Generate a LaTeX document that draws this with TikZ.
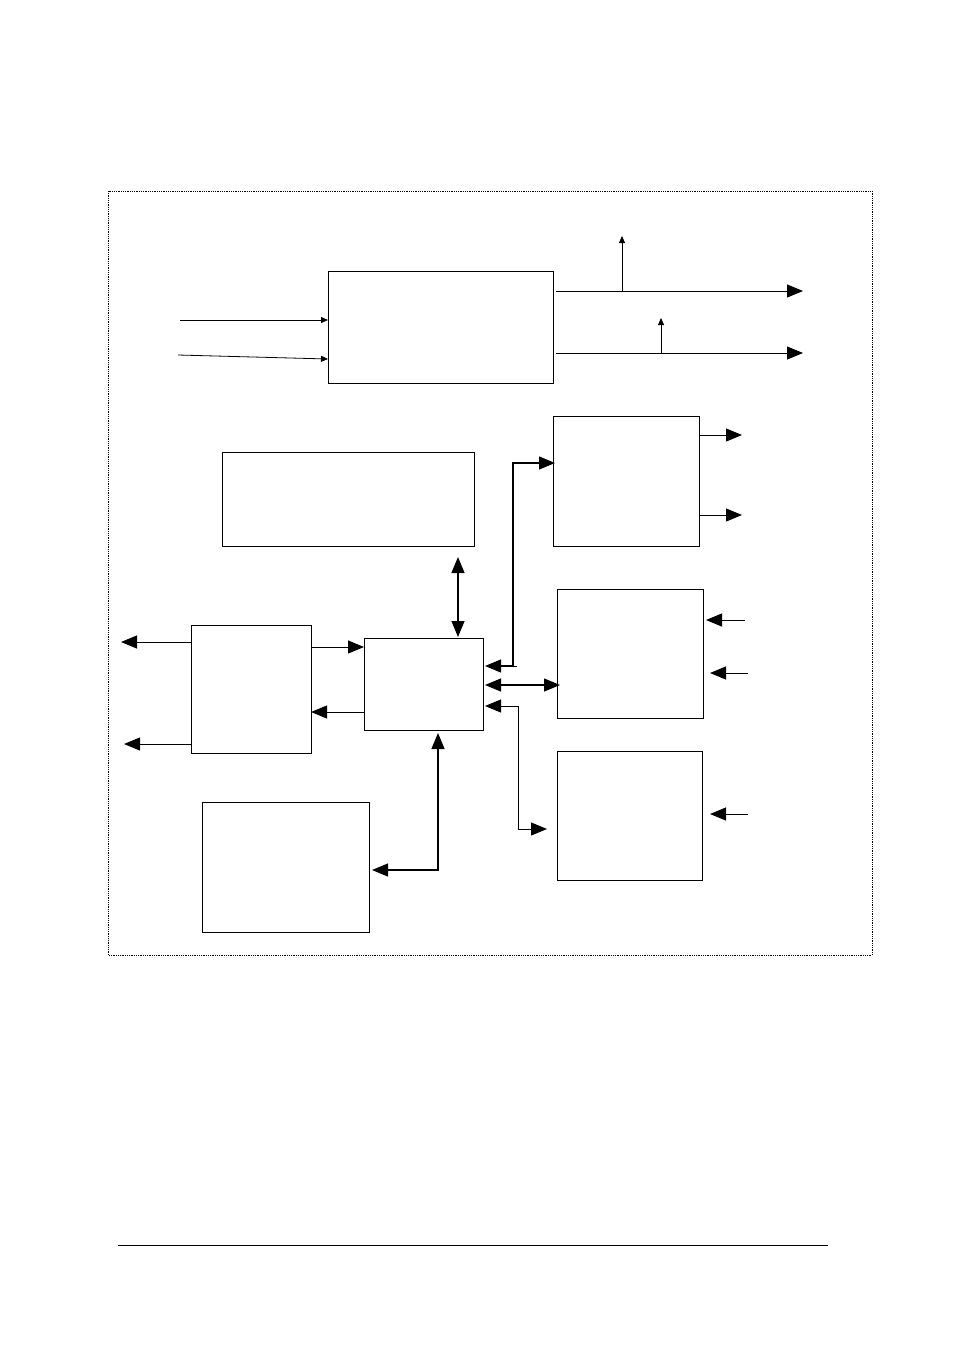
\documentclass[tikz,border=0pt]{standalone}
\usetikzlibrary{arrows.meta}
\begin{document}
\begin{tikzpicture}[x=1pt,y=-1pt,
 blk/.style={draw,line width=1.2pt},
 big/.style={line width=1pt,-{Triangle[length=16pt,width=13pt]}},
 bigb/.style={line width=1.2pt,{Triangle[length=16pt,width=13pt]}-{Triangle[length=16pt,width=13pt]}},
 sm/.style={line width=0.8pt,-{Triangle[length=7pt,width=6pt]}}]
\useasboundingbox (0,0) rectangle (954,1358);
\draw[densely dotted,line width=0.8pt] (108,191) rectangle (872,955);
\draw[line width=1pt] (118,1245) -- (828,1245);
\node[blk,minimum width=225pt,minimum height=112pt,anchor=north west] (top) at (328,271) {};
\node[blk,minimum width=252pt,minimum height=94pt,anchor=north west] (wide) at (222,452) {};
\node[blk,minimum width=146pt,minimum height=130pt,anchor=north west] (r1) at (553,416) {};
\node[blk,minimum width=146pt,minimum height=129pt,anchor=north west] (r2) at (557,589) {};
\node[blk,minimum width=145pt,minimum height=129pt,anchor=north west] (r3) at (557,751) {};
\node[blk,minimum width=120pt,minimum height=128pt,anchor=north west] (lb) at (191,625) {};
\node[blk,minimum width=119pt,minimum height=92pt,anchor=north west] (ctr) at (364,638) {};
\node[blk,minimum width=167pt,minimum height=130pt,anchor=north west] (bl) at (202,802) {};
\coordinate (i1) at (180,320); \coordinate (i2) at (178,355);
\draw[sm] (i1) -- (top.west |- i1);
\draw[sm] (i2) -- (328,359);
\coordinate (o1) at (803,291); \coordinate (o2) at (803,353);
\draw[big] (556,291) -- (o1);
\draw[big] (556,353) -- (o2);
\draw[sm] (622,291) -- (622,236);
\draw[sm] (661,353) -- (661,318);
\draw[big] (699,435) -- (742,435);
\draw[big] (699,515) -- (742,515);
\draw[big] (745,620) -- (706,620);
\draw[big] (748,673) -- (710,673);
\draw[big] (748,814) -- (710,814);
\draw[bigb] (458,557) -- (458,637);
\draw[bigb] (485,666) -- (513,666) -- (513,463) -- (555,463);
\draw[line width=1pt] (513,666) -- (517,666);
\draw[bigb] (485,685) -- (560,685);
\draw[line width=1pt,{Triangle[length=16pt,width=13pt]}-{Triangle[length=16pt,width=13pt]}] (485,706) -- (518,706) -- (518,829) -- (547,829);
\draw[big] (311,647) -- (364,647);
\draw[big] (364,712) -- (311,712);
\draw[big] (191,642) -- (121,642);
\draw[big] (191,744) -- (124,744);
\draw[bigb] (438,733) -- (438,870) -- (372,870);
\end{tikzpicture}
\end{document}
